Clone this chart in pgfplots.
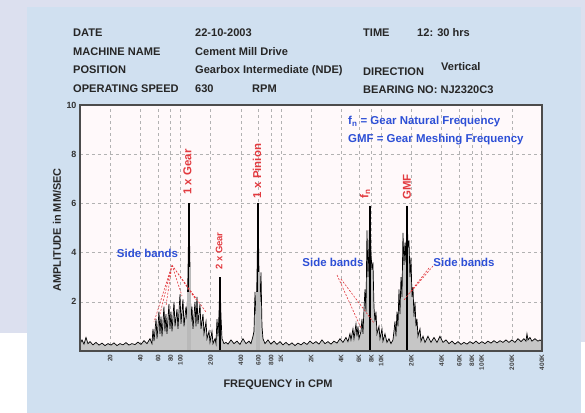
\documentclass[border=0pt]{standalone}
\usepackage{fontspec}
\setmainfont{Liberation Sans}
\usepackage{pgfplots}
\pgfplotsset{compat=1.18}
\usepackage{pgfplotstable}
\definecolor{lav}{HTML}{DCE0EF}
\definecolor{panel}{HTML}{D0E0F0}
\definecolor{ared}{HTML}{E23A3F}
\definecolor{ablue}{HTML}{2D4FD6}
\definecolor{plotbg}{HTML}{FFF9FA}
\pgfplotstableread{
f a
10 0.3
10.47 0.45
10.96 0.28
11.47 0.55
12.01 0.3
12.58 0.38
13.47 0.25
14.43 0.35
15.46 0.24
16.56 0.32
17.74 0.22
19.00 0.3
20.35 0.24
21.80 0.33
23.35 0.22
25.03 0.3
26.80 0.25
28.71 0.34
30.76 0.24
32.95 0.3
35.30 0.26
37.80 0.36
40.50 0.27
43.40 0.42
46.47 0.3
49.8 0.5
52.1 0.3
53.35 0.9
54.6 0.4
57.2 1.3
58.5 0.5
61.2 1.6
62.6 0.7
64.1 1.4
65.6 0.6
68.6 1.8
70.2 0.8
71.8 1.5
73.5 0.7
76.9 1.9
78.8 0.9
80.6 1.6
82.5 0.8
86.4 2.0
88.4 1.0
92.5 1.7
94.6 0.9
99.1 2.3
101.4 1.1
106.1 2.1
108.6 1.0
113.7 1.8
116.3 1.3
119.0 3.2
121.8 6.0
124.6 3.4
127.5 1.2
130.5 1.8
133.5 0.9
139.8 2.0
143.0 1.0
146.3 2.2
149.7 1.1
156.8 1.9
160.4 0.9
168.0 1.5
171.9 0.7
180.0 1.2
184.1 0.5
192.8 0.8
197.2 0.35
206.4 0.8
211.2 0.3
221.2 0.5
226.3 0.3
231.5 1.3
236.9 0.6
242.4 1.5
248.0 3.0
253.8 1.4
259.7 0.5
271.9 0.3
284.7 0.35
298.0 0.28
319.2 0.45
341.8 0.3
366.0 0.4
392.3 0.27
420.0 0.5
450.2 0.3
482.2 0.4
504.9 0.3
528.7 0.6
540.9 0.8
553.5 2.4
566.3 1.5
579.4 3.0
592.9 6.0
606.7 3.2
620.6 2.0
635.0 3.2
649.8 1.0
664.9 0.5
696.1 0.3
745.5 0.45
798.7 0.28
855.8 0.4
916.8 0.27
981.7 0.38
1051 0.25
1127 0.35
1207 0.24
1293 0.33
1385 0.22
1483 0.32
1589 0.25
1702 0.35
1824 0.27
1954 0.4
2093 0.3
2242 0.38
2401 0.28
2572 0.45
2755 0.3
2951 0.38
3162 0.28
3387 0.4
3628 0.32
3887 0.5
4163 0.35
4460 0.55
4669 0.38
4889 0.7
5002 0.45
5238 0.9
5360 0.5
5611 1.1
5741 0.6
5874 1.0
6011 0.5
6293 0.8
6439 1.3
6588 0.7
6741 1.7
6898 2.5
7058 1.6
7221 4.9
7388 3.0
7559 4.3
7733 5.9
7913 4.0
8096 3.3
8284 3.6
8476 1.8
8674 1.2
8875 1.6
9083 0.7
9509 1.0
9728 0.5
10185 0.9
10420 0.4
10910 0.7
11420 0.35
11960 0.5
12520 0.3
13105 0.45
13410 0.8
13725 1.2
14040 0.6
14370 1.6
14700 1.0
15045 2.5
15390 1.5
15750 3.0
16120 2.2
16490 4.8
16870 3.5
17265 4.4
17660 3.6
18070 5.9
18490 4.2
18920 4.5
19360 3.0
19810 3.8
20270 2.2
20740 2.6
21220 1.4
21715 2.0
22220 1.0
22730 1.3
23255 0.6
24355 0.9
24920 0.4
26090 0.6
27320 0.35
29260 0.6
31350 0.35
33580 0.55
35970 0.35
38530 0.6
41280 0.35
44210 0.45
47360 0.3
50740 0.4
54350 0.28
58220 0.38
62370 0.27
66800 0.35
71560 0.28
76650 0.38
82110 0.3
87960 0.4
94220 0.3
100900 0.38
108100 0.3
115800 0.4
124100 0.32
132900 0.42
142400 0.33
152500 0.42
163400 0.35
175000 0.45
187500 0.35
200800 0.45
215100 0.35
230400 0.5
246800 0.38
264400 0.5
276800 0.4
283300 0.7
289900 0.45
303400 0.55
317600 0.4
340300 0.5
364500 0.4
381600 0.45
399700 0.4
}\spectrum
\begin{document}
\begin{tikzpicture}
\path[use as bounding box] (0,0) rectangle (585bp,413bp);
\fill[lav] (0,0) rectangle (585bp,413bp);
\fill[white] (0,0) rectangle (28bp,80bp);
\fill[white] (580bp,0) rectangle (585bp,71bp);
\fill[panel] (27bp,0) rectangle (581bp,406bp);
\begin{scope}[every node/.style={font=\fontsize{11.1}{13}\selectfont\bfseries, text=black!85, anchor=base west, inner sep=0pt}]
\node at (73bp,376bp) {DATE};
\node at (195bp,376bp) {22-10-2003};
\node at (363bp,376bp) {TIME};
\node at (417bp,376bp) {12: 30 hrs};
\node at (73bp,357bp) {MACHINE NAME};
\node at (195bp,357bp) {Cement Mill Drive};
\node at (73bp,339bp) {POSITION};
\node at (195bp,339bp) {Gearbox Intermediate (NDE)};
\node at (363bp,337bp) {DIRECTION};
\node at (441bp,342bp) {Vertical};
\node at (73bp,320bp) {OPERATING SPEED};
\node at (195bp,320bp) {630};
\node at (252bp,320bp) {RPM};
\node at (363bp,319bp) {BEARING NO: NJ2320C3};
\end{scope}
\begin{axis}[
  at={(80bp,62bp)}, anchor=south west,
  width=462bp, height=246bp, scale only axis,
  xmode=log, xmin=10, xmax=400000, ymin=0, ymax=10,
  /pgf/number format/assume math mode=true,
  axis background/.style={fill=plotbg},
  axis line style={draw=black!70, line width=1.4pt},
  xtick={20,40,60,80,100,200,400,600,800,1000,2000,4000,6000,8000,10000,20000,40000,60000,80000,100000,200000,400000},
  xticklabels={20,40,60,80,100,200,400,600,800,1K,2K,4K,6K,8K,10K,20K,40K,60K,80K,100K,200K,400K},
  xticklabel style={rotate=90, anchor=east, font=\fontsize{6.5}{7}\selectfont\bfseries, text=black!75},
  ytick={2,4,6,8,10},
  yticklabel style={font=\fontsize{9}{10}\selectfont\bfseries, text=black!80},
  major tick length=0pt, minor tick length=0pt,
  xmajorgrids, ymajorgrids,
  major grid style={draw=black!30, dash pattern=on 3pt off 3pt, line width=0.5pt},
  xlabel={FREQUENCY in CPM},
  ylabel={AMPLITUDE in MM/SEC},
  xlabel style={at={(axis description cs:0.4286,-0.138)}, anchor=center, font=\fontsize{11}{12}\selectfont\bfseries, text=black!85},
  ylabel style={at={(axis description cs:-0.0498,0.492)}, anchor=center, font=\fontsize{11}{12}\selectfont\bfseries, text=black!85},
]
\addplot[draw=none, fill=gray!45] table[x=f,y=a] {\spectrum} \closedcycle;
\addplot[black, line width=0.7pt] table[x=f,y=a] {\spectrum};
\addplot[ycomb, black, line width=2.2pt, mark=none] coordinates {(121.8,6.0) (592.9,6.0) (248.0,3.0)};
\addplot[ycomb, black, line width=1.4pt, mark=none] coordinates {(7733,5.9) (18070,5.9)};
\addplot[ycomb, gray!55, line width=1.6pt, mark=none] coordinates {(124.6,3.4) (606.7,3.2) (119.0,2.4) (579.4,2.4)};
\draw[black!70, line width=1.4pt] (rel axis cs:0,0) rectangle (rel axis cs:1,1);
% side-band pointers
\draw[ared, line width=0.6pt, dash pattern=on 2pt off 1.5pt]
  (rel axis cs:0.1991,0.3496) -- (rel axis cs:0.1602,0.1179)
  (rel axis cs:0.1991,0.3496) -- (rel axis cs:0.1732,0.1504)
  (rel axis cs:0.1991,0.3496) -- (rel axis cs:0.1861,0.1829)
  (rel axis cs:0.1991,0.3496) -- (rel axis cs:0.2208,0.2236)
  (rel axis cs:0.1991,0.3496) -- (rel axis cs:0.2511,0.2073)
  (rel axis cs:0.1991,0.3496) -- (rel axis cs:0.2727,0.1585)
  (rel axis cs:0.5563,0.3089) -- (rel axis cs:0.6082,0.0935)
  (rel axis cs:0.5649,0.2927) -- (rel axis cs:0.6364,0.1138)
  (rel axis cs:0.7641,0.3455) -- (rel axis cs:0.7143,0.2358)
  (rel axis cs:0.7554,0.3374) -- (rel axis cs:0.7013,0.2073);
\node[text=ared, rotate=90, anchor=center, inner sep=0pt, font=\fontsize{11.5}{13}\selectfont\bfseries] at (rel axis cs:0.2327,0.7276) {1 x Gear};
\node[text=ared, rotate=90, anchor=center, inner sep=0pt, font=\fontsize{9.5}{11}\selectfont\bfseries] at (rel axis cs:0.3009,0.4065) {2 x Gear};
\node[text=ared, rotate=90, anchor=center, inner sep=0pt, font=\fontsize{11.5}{13}\selectfont\bfseries] at (rel axis cs:0.3831,0.7317) {1 x Pinion};
\node[text=ared, rotate=90, anchor=center, inner sep=0pt, font=\fontsize{11.5}{13}\selectfont\bfseries] at (rel axis cs:0.6169,0.638) {f\textsubscript{n}};
\node[text=ared, rotate=90, anchor=center, inner sep=0pt, font=\fontsize{11.5}{13}\selectfont\bfseries] at (rel axis cs:0.7078,0.6667) {GMF};
\node[text=ablue, anchor=center, inner sep=0pt, font=\fontsize{11.5}{13}\selectfont\bfseries] at (rel axis cs:0.1461,0.3984) {Side bands};
\node[text=ablue, anchor=center, inner sep=0pt, font=\fontsize{11.5}{13}\selectfont\bfseries] at (rel axis cs:0.5476,0.3618) {Side bands};
\node[text=ablue, anchor=center, inner sep=0pt, font=\fontsize{11.5}{13}\selectfont\bfseries] at (rel axis cs:0.8312,0.3618) {Side bands};
\node[text=ablue, anchor=west, inner sep=0pt, font=\fontsize{11.5}{13}\selectfont\bfseries] at (rel axis cs:0.5801,0.9309) {f\textsubscript{n} = Gear Natural Frequency};
\node[text=ablue, anchor=west, inner sep=0pt, font=\fontsize{11.5}{13}\selectfont\bfseries] at (rel axis cs:0.5801,0.8577) {GMF = Gear Meshing Frequency};
\end{axis}
\end{tikzpicture}
\end{document}
